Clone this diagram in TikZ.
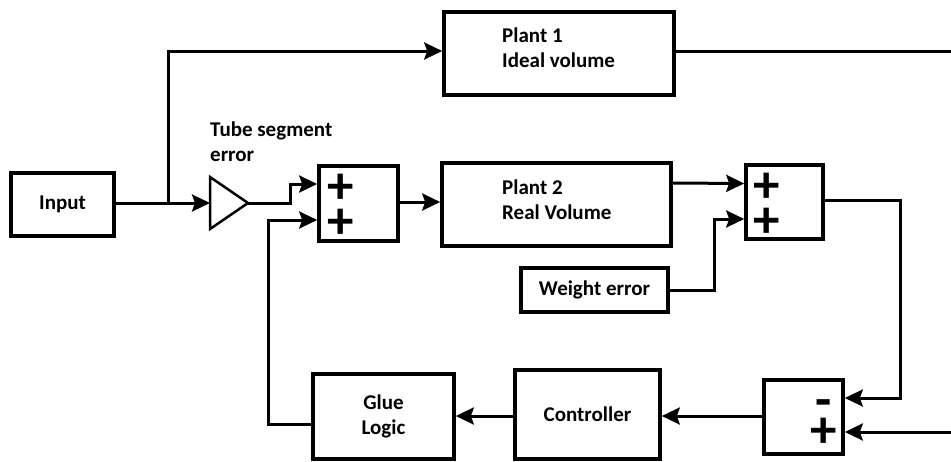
\documentclass[tikz,border=0pt]{standalone}
\usepackage{fontspec}
\setmainfont{Carlito}
\usetikzlibrary{arrows.meta,calc}
\begin{document}
\begin{tikzpicture}[x=1pt,y=-1pt,
  box/.style={draw,line width=3.6pt,inner sep=0pt,font=\bfseries\fontsize{21}{25}\selectfont,align=center},
  lbl/.style={inner sep=0pt,font=\bfseries\fontsize{21}{25}\selectfont,align=left},
  sgn/.style={inner sep=0pt,font=\bfseries\fontsize{53}{35}\selectfont,align=center},
  conn/.style={line width=3pt},
  arr/.style={conn,-{Stealth[length=18pt,width=17pt,inset=3pt]}}]
\useasboundingbox (0,0) rectangle (951,461);
% boxes
\node[box,minimum width=103,minimum height=63] (in) at (62.5,204.5) {Input};
\node[box,minimum width=230,minimum height=83] (p1) at (559,53.5) {};
\node[lbl,anchor=west] (p1t) at (502,48) {Plant 1\\Ideal volume};
\node[box,minimum width=229,minimum height=83] (p2) at (556.5,204.5) {};
\node[lbl,anchor=west] (p2t) at (502,200) {Plant 2\\Real Volume};
\node[box,minimum width=79,minimum height=75] (s1) at (358.5,203.5) {};
\node[sgn] (s1s) at (341,206) {+\\+};
\node[box,minimum width=77,minimum height=74] (s2) at (784.5,202) {};
\node[sgn] (s2s) at (767,205) {+\\+};
\node[box,minimum width=147,minimum height=44] (we) at (594.5,290) {Weight error};
\node[box,minimum width=141,minimum height=85] (gl) at (383.5,416.5) {Glue\\Logic};
\node[box,minimum width=145,minimum height=89] (ct) at (587.5,414.5) {Controller};
\node[box,minimum width=79,minimum height=74] (s3) at (803.5,417) {};
\node[sgn,font=\bfseries\fontsize{53}{30}\selectfont] (s3s) at (823.5,424) {-\\+};
\node[lbl,anchor=west] (tse) at (210,142) {Tube segment\\error};
% amplifier triangle
\draw[line width=2.5pt,line join=miter] (210,177) -- (248,203) -- (210,229) -- cycle;
\coordinate (ampin) at (210,203);
\coordinate (ampout) at (248,203);
\coordinate (br) at (168,203);
\coordinate (rout) at (951,51);
\coordinate (rin) at (951,432);
% connectors
\draw[arr] (in.east |- br) -- (ampin);
\draw[arr] (br) |- ($(p1.west)+(0,-2.5)$);
\draw[conn] ($(p1.east)+(0,-2.5)$) -- (rout);
\draw[arr] (ampout) -- ++(42,0) |- ($(s1.west)+(0,-19.5)$);
\draw[arr] ($(gl.west)+(0,7.5)$) -- ++(-43,0) |- ($(s1.west)+(0,16.5)$);
\draw[arr] ($(s1.east)+(0,-1.5)$) -- ($(p2.west)+(0,-2.5)$);
\draw[arr] ($(p2.east)+(0,-21.5)$) -- ($(s2.west)+(0,-18.5)$);
\draw[arr] (we.east) -- ++(45,0) |- ($(s2.west)+(0,17)$);
\draw[arr] ($(s2.east)+(0,-2)$) -- ++(76,0) |- ($(s3.east)+(0,-19)$);
\draw[arr] (rin) -- (rin -| s3.east);
\draw[arr] ($(s3.west)+(0,-1)$) -- ($(ct.east)+(0,1.5)$);
\draw[arr] ($(ct.west)+(0,1.5)$) -- ($(gl.east)+(0,-0.5)$);
\end{tikzpicture}
\end{document}
